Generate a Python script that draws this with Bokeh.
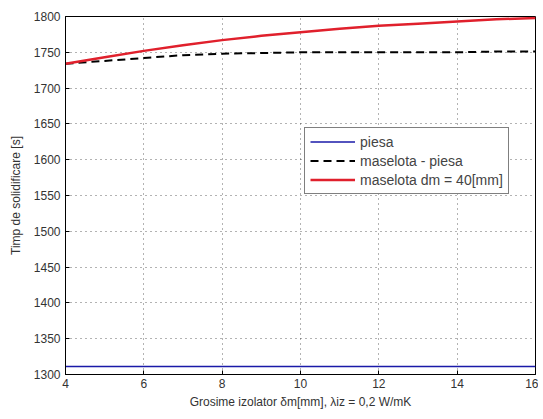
from bokeh.plotting import figure
from bokeh.models import Legend, LegendItem, FixedTicker
from bokeh.embed import file_html
from bokeh.resources import INLINE

x = [4, 5, 6, 7, 8, 9, 10, 11, 12, 13, 14, 15, 16]
piesa = [1311] * 13
maselota_piesa = [1734, 1738, 1742, 1746, 1748, 1749, 1750, 1750, 1750, 1750, 1750, 1751, 1751]
maselota_dm40 = [1734, 1743, 1752, 1760, 1767, 1773, 1778, 1783, 1787, 1790, 1793, 1796, 1798]
x_ticks = [4, 6, 8, 10, 12, 14, 16]
y_ticks = [1300, 1350, 1400, 1450, 1500, 1550, 1600, 1650, 1700, 1750, 1800]

FONT = "Liberation Sans"

p = figure(width=538, height=411, output_backend="svg", toolbar_location=None,
           x_range=(4, 16), y_range=(1300, 1800),
           min_border_left=65, min_border_right=3, min_border_top=16, min_border_bottom=33)
p.background_fill_color = "white"
p.border_fill_color = "white"
p.outline_line_color = "black"
p.outline_line_width = 1

l1 = p.line(x, piesa, line_color="#1a1aa8", line_width=1.5)
l2 = p.line(x, maselota_piesa, line_color="black", line_width=2, line_dash="8 5")
l3 = p.line(x, maselota_dm40, line_color="#e0202c", line_width=2.5)

for ax in (p.xaxis[0], p.yaxis[0]):
    ax.major_tick_in = 4
    ax.major_tick_out = 0
    ax.minor_tick_line_color = None
    ax.axis_line_color = "black"
    ax.major_label_text_font = FONT
    ax.major_label_text_font_size = "12px"
    ax.major_label_text_color = "#333333"
    ax.axis_label_text_font = FONT
    ax.axis_label_text_font_size = "12px"
    ax.axis_label_text_font_style = "normal"
    ax.axis_label_text_color = "#333333"

p.xaxis.ticker = FixedTicker(ticks=x_ticks)
p.yaxis.ticker = FixedTicker(ticks=y_ticks)
p.xaxis.axis_label = "Grosime izolator δm[mm], λiz = 0,2 W/mK"
p.yaxis.axis_label = "Timp de solidificare [s]"
p.xaxis.axis_label_standoff = 4
p.yaxis.axis_label_standoff = 8
p.xaxis.major_label_standoff = 4

p.xgrid.grid_line_color = "black"
p.ygrid.grid_line_color = "black"
p.xgrid.grid_line_dash = "1 4"
p.ygrid.grid_line_dash = "1 4"
p.xgrid.grid_line_alpha = 0.6
p.ygrid.grid_line_alpha = 0.6

legend = Legend(items=[
    LegendItem(label="piesa", renderers=[l1]),
    LegendItem(label="maselota - piesa", renderers=[l2]),
    LegendItem(label="maselota dm = 40[mm]", renderers=[l3]),
], location=(239, 180))
legend.label_text_font = FONT
legend.label_text_font_size = "14px"
legend.label_height = 17
legend.glyph_height = 17
legend.glyph_width = 45
legend.spacing = 2
legend.padding = 5
legend.margin = 0
legend.border_line_color = "black"
legend.border_line_width = 1
legend.background_fill_alpha = 1
p.add_layout(legend)

open("out.html", "w").write(file_html(p, INLINE))
